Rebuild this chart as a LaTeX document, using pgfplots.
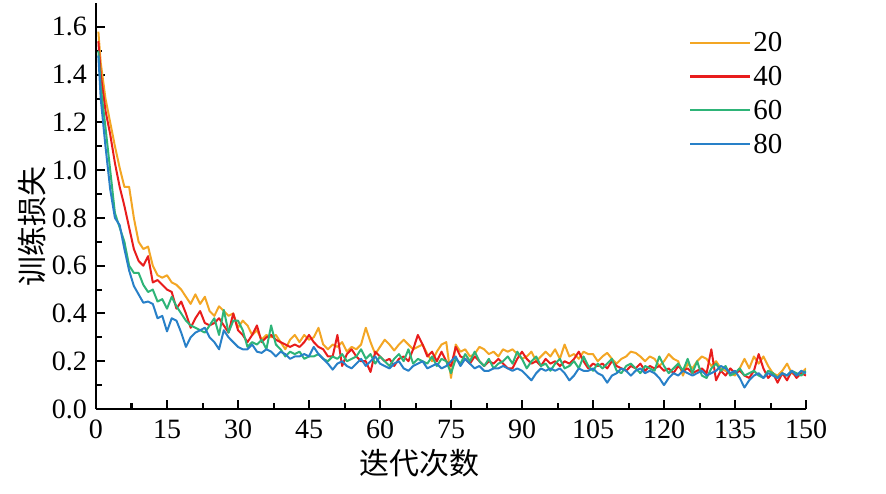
\documentclass[border=0pt]{standalone}
\usepackage{pgfplots}
\usepackage{pgfplotstable}
\pgfplotsset{compat=1.18}
\usepackage{fontspec}
\setmainfont{Liberation Serif}
\newfontfamily\cjk{Noto Sans CJK SC}
\definecolor{cO}{RGB}{243,166,36}
\definecolor{cR}{RGB}{232,28,28}
\definecolor{cG}{RGB}{46,180,120}
\definecolor{cB}{RGB}{40,128,200}
\pgfplotstableread{
x o r g b
0.5 1.58 1.54 1.50 1.48
1 1.45 1.40 1.35 1.30
2 1.30 1.25 1.18 1.10
3 1.20 1.15 1.00 0.92
4 1.10 1.03 0.82 0.80
5 1.01 0.93 0.76 0.77
6 0.93 0.85 0.70 0.67
7 0.93 0.76 0.60 0.58
8 0.80 0.67 0.57 0.515
9 0.70 0.62 0.57 0.48
10 0.67 0.60 0.52 0.445
11 0.68 0.64 0.49 0.45
12 0.60 0.53 0.50 0.44
13 0.56 0.54 0.45 0.38
14 0.55 0.52 0.46 0.39
15 0.56 0.50 0.42 0.325
16 0.53 0.49 0.47 0.38
17 0.52 0.42 0.43 0.37
18 0.50 0.45 0.40 0.32
19 0.47 0.40 0.37 0.26
20 0.44 0.34 0.35 0.30
21 0.48 0.38 0.34 0.32
22 0.44 0.41 0.33 0.33
23 0.47 0.36 0.32 0.34
24 0.41 0.35 0.35 0.30
25 0.39 0.36 0.38 0.28
26 0.43 0.38 0.31 0.25
27 0.41 0.35 0.415 0.33
28 0.39 0.32 0.32 0.30
29 0.40 0.40 0.37 0.28
30 0.34 0.33 0.37 0.26
31 0.37 0.31 0.33 0.25
32 0.35 0.28 0.26 0.25
33 0.31 0.31 0.28 0.27
34 0.33 0.35 0.27 0.24
35 0.29 0.28 0.29 0.235
36 0.31 0.30 0.25 0.25
37 0.30 0.31 0.35 0.24
38 0.31 0.29 0.27 0.22
39 0.28 0.28 0.25 0.24
40 0.25 0.27 0.22 0.23
41 0.29 0.26 0.24 0.21
42 0.31 0.27 0.23 0.22
43 0.28 0.26 0.24 0.22
44 0.31 0.28 0.21 0.23
45 0.29 0.31 0.22 0.22
46 0.30 0.28 0.22 0.26
47 0.34 0.26 0.23 0.23
48 0.27 0.25 0.21 0.21
49 0.25 0.22 0.20 0.19
50 0.27 0.22 0.22 0.165
51 0.26 0.31 0.21 0.19
52 0.28 0.18 0.23 0.20
53 0.24 0.23 0.20 0.18
54 0.26 0.25 0.21 0.17
55 0.25 0.22 0.22 0.19
56 0.27 0.20 0.25 0.21
57 0.34 0.20 0.21 0.18
58 0.28 0.155 0.23 0.20
59 0.23 0.24 0.19 0.22
60 0.26 0.22 0.22 0.19
61 0.29 0.20 0.20 0.18
62 0.27 0.21 0.18 0.17
63 0.245 0.18 0.21 0.19
64 0.27 0.21 0.23 0.20
65 0.29 0.22 0.20 0.17
66 0.27 0.20 0.25 0.16
67 0.25 0.25 0.19 0.18
68 0.26 0.31 0.21 0.19
69 0.27 0.27 0.20 0.20
70 0.23 0.22 0.19 0.17
71 0.20 0.24 0.22 0.18
72 0.24 0.20 0.18 0.19
73 0.27 0.24 0.21 0.17
74 0.28 0.20 0.20 0.18
75 0.13 0.18 0.15 0.20
76 0.27 0.26 0.21 0.22
77 0.24 0.22 0.19 0.18
78 0.25 0.21 0.23 0.21
79 0.22 0.19 0.20 0.19
80 0.23 0.22 0.24 0.17
81 0.26 0.20 0.20 0.18
82 0.25 0.18 0.18 0.16
83 0.23 0.20 0.21 0.16
84 0.24 0.19 0.17 0.17
85 0.22 0.21 0.19 0.17
86 0.25 0.19 0.20 0.18
87 0.24 0.17 0.22 0.17
88 0.25 0.17 0.19 0.16
89 0.23 0.21 0.24 0.17
90 0.21 0.24 0.21 0.16
91 0.22 0.21 0.17 0.14
92 0.24 0.19 0.20 0.12
93 0.20 0.20 0.22 0.15
94 0.22 0.18 0.18 0.17
95 0.24 0.21 0.19 0.16
96 0.22 0.19 0.16 0.17
97 0.25 0.20 0.19 0.16
98 0.21 0.18 0.21 0.17
99 0.27 0.20 0.17 0.15
100 0.22 0.19 0.18 0.12
101 0.23 0.21 0.20 0.14
102 0.21 0.24 0.17 0.17
103 0.24 0.20 0.22 0.16
104 0.23 0.17 0.18 0.16
105 0.23 0.19 0.16 0.17
106 0.20 0.18 0.19 0.15
107 0.22 0.19 0.17 0.14
108 0.235 0.17 0.19 0.11
109 0.21 0.20 0.21 0.14
110 0.19 0.18 0.16 0.15
111 0.21 0.17 0.15 0.17
112 0.22 0.16 0.18 0.16
113 0.24 0.18 0.19 0.14
114 0.235 0.17 0.17 0.16
115 0.22 0.19 0.15 0.17
116 0.20 0.16 0.18 0.15
117 0.22 0.18 0.17 0.16
118 0.21 0.17 0.16 0.15
119 0.18 0.18 0.22 0.13
120 0.20 0.16 0.18 0.10
121 0.23 0.17 0.15 0.13
122 0.21 0.15 0.17 0.15
123 0.20 0.18 0.19 0.14
124 0.14 0.16 0.16 0.16
125 0.19 0.17 0.21 0.15
126 0.17 0.15 0.15 0.14
127 0.20 0.16 0.20 0.15
128 0.22 0.17 0.14 0.16
129 0.21 0.15 0.13 0.14
130 0.18 0.25 0.17 0.15
131 0.20 0.12 0.19 0.16
132 0.17 0.16 0.16 0.18
133 0.16 0.14 0.18 0.17
134 0.15 0.17 0.14 0.15
135 0.14 0.15 0.15 0.16
136 0.17 0.16 0.17 0.13
137 0.21 0.14 0.14 0.09
138 0.17 0.13 0.15 0.12
139 0.22 0.16 0.16 0.14
140 0.19 0.23 0.14 0.15
141 0.22 0.17 0.13 0.13
142 0.18 0.13 0.16 0.15
143 0.15 0.15 0.15 0.14
144 0.14 0.11 0.13 0.13
145 0.16 0.15 0.15 0.15
146 0.19 0.12 0.14 0.14
147 0.15 0.16 0.16 0.16
148 0.14 0.13 0.15 0.14
149 0.15 0.15 0.14 0.16
150 0.17 0.14 0.16 0.15
}\losstable
\begin{document}
\begin{tikzpicture}
\begin{axis}[
  at={(0pt,0pt)}, anchor=south west,
  width=710pt, height=406pt, scale only axis,
  xmin=0, xmax=150, ymin=0, ymax=1.7,
  axis x line*=bottom, axis y line*=left,
  axis line style={line width=2pt, black},
  xtick={0,15,...,150},
  ytick={0,0.2,0.4,0.6,0.8,1.0,1.2,1.4,1.6},
  minor x tick num=1, minor y tick num=1,
  tick align=inside,
  major tick length=9pt, minor tick length=6pt,
  every tick/.style={black, line width=2pt},
  /pgf/number format/assume math mode=true,
  yticklabel style={/pgf/number format/fixed, /pgf/number format/fixed zerofill, /pgf/number format/precision=1, inner sep=0pt, xshift=-9pt},
  xticklabel style={/pgf/number format/fixed, inner sep=0pt, yshift=-11pt},
  tick label style={font=\fontsize{28}{30}\selectfont},
  xlabel={\cjk 迭代次数},
  ylabel={\cjk 训练损失},
  label style={font=\fontsize{30}{30}\selectfont},
  xlabel style={at={(axis description cs:0.456,0)}, anchor=north, yshift=-40pt, inner sep=0pt},
  ylabel style={at={(axis description cs:0,0.45)}, anchor=south, yshift=50pt, inner sep=0pt},
  legend style={at={(rel axis cs:0.835,0.933)}, anchor=north west, draw=none, fill=none,
    font=\fontsize{29}{30}\selectfont, row sep=9pt, inner sep=0pt,
    /tikz/every even column/.append style={column sep=6pt}},
  legend cell align=left,
  legend image code/.code={\draw[#1, line width=2.2pt] (0pt,0pt) -- (60pt,0pt);},
  every axis plot/.append style={line width=2pt, line join=round},
]
\addplot[cO] table[x=x, y=o] {\losstable};
\addplot[cR] table[x=x, y=r] {\losstable};
\addplot[cG] table[x=x, y=g] {\losstable};
\addplot[cB] table[x=x, y=b] {\losstable};
\legend{20,40,60,80}
\end{axis}
\pgfresetboundingbox
\path (-96pt,-84pt) rectangle (790pt,409pt);
\end{tikzpicture}
\end{document}
